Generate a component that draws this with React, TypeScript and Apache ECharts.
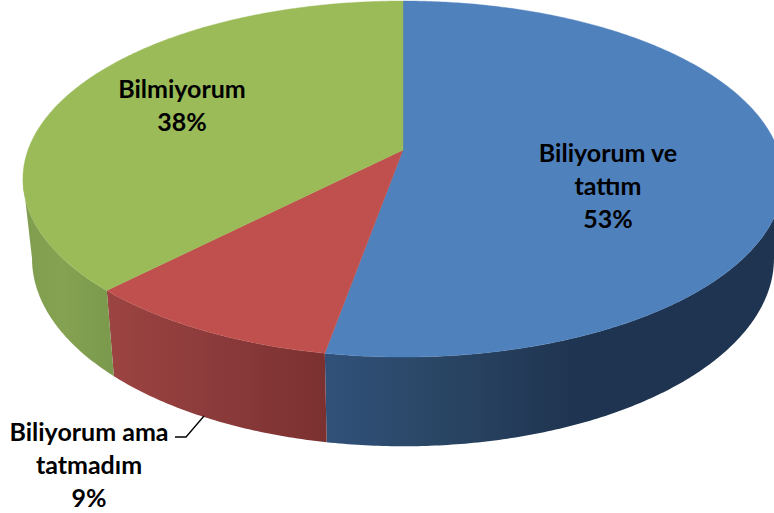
import React, { useEffect, useRef } from "react";
import * as echarts from "echarts";

const categories = ["Biliyorum ve\ntattım", "Biliyorum ama\ntatmadım", "Bilmiyorum"];
const sliceValues = [52.8, 9.49, 37.71];
const topColors = ["#4f81bd", "#bf504d", "#9bbb59"];
const wallStops: [number, string][][] = [
  [[0, "#31517a"], [0.25, "#2a4665"], [0.55, "#1f3450"], [1, "#1f3450"]],
  [[0, "#9c4441"], [0.5, "#8b3a3b"], [1, "#7b3130"]],
  [[0, "#819e50"], [0.45, "#84a251"], [1, "#7b994c"]],
];
const labelCenters = [[608, 185], [89, 463.5], [182, 104.5]];
const leaderPoints = [[175, 437], [186, 437], [204, 416]];

// Perspective model of the pie's upper and lower discs
const CX = 403;
const P = 0.163;
const TOP = { a: 375, b: 173.3, c: 150 };
const LOW = { a: 366, b: 182.7, c: 228 };
const TOTAL = sliceValues.reduce((s, v) => s + v, 0);

function project(th: number, d: { a: number; b: number; c: number }) {
  const x = Math.sin(th);
  const z = Math.cos(th);
  const w = 1 + P * z;
  return [CX + (d.a * x) / w, d.c - (d.b * z) / w];
}
function arc(a0: number, a1: number, d: { a: number; b: number; c: number }) {
  const n = Math.max(2, Math.ceil(Math.abs(a1 - a0) / 0.01));
  const pts: number[][] = [];
  for (let i = 0; i <= n; i++) pts.push(project(a0 + ((a1 - a0) * i) / n, d));
  return pts;
}

const renderSlice = (params: any, api: any) => {
  const i = params.dataIndex;
  const before = sliceValues.slice(0, i).reduce((s, v) => s + v, 0);
  const v = api.value(0) as number;
  const a0 = (before / TOTAL) * Math.PI * 2;
  const a1 = ((before + v) / TOTAL) * Math.PI * 2;
  const children: any[] = [];

  const frontStart = Math.acos(-P);
  const frontEnd = Math.PI * 2 - frontStart;
  const w0 = Math.max(a0, frontStart);
  const w1 = Math.min(a1, frontEnd);
  if (w1 > w0) {
    const pts = arc(w0, w1, TOP).concat(arc(w0, w1, LOW).reverse());
    children.push({
      type: "polygon",
      shape: { points: pts },
      style: {
        fill: new echarts.graphic.LinearGradient(
          0, 0, 1, 0,
          wallStops[i].map(([offset, color]) => ({ offset, color }))
        ),
      },
    });
  }
  children.push({
    type: "polygon",
    z2: 5,
    shape: { points: [[CX, TOP.c], ...arc(a0, a1, TOP)] },
    style: { fill: topColors[i], stroke: topColors[i], lineWidth: 0.4 },
  });
  children.push({
    type: "text",
    z2: 10,
    style: {
      text: `${categories[i]}\n${Math.round(v)}%`,
      x: labelCenters[i][0],
      y: labelCenters[i][1],
      align: "center",
      verticalAlign: "middle",
      fontFamily: "Lato",
      fontWeight: "bold",
      fontSize: 25,
      lineHeight: 33,
      fill: "#000000",
    },
  });
  if (i === 1) {
    children.push({
      type: "polyline",
      z2: 10,
      shape: { points: leaderPoints },
      style: { fill: "none", stroke: "#000000", lineWidth: 1.3 },
    });
  }
  return { type: "group", children };
};

export default function App() {
  const ref = useRef<HTMLDivElement>(null);
  useEffect(() => {
    document.body.style.margin = "0";
    const chart = echarts.init(ref.current!, undefined, { renderer: "svg" });
    chart.setOption({
      animation: false,
      backgroundColor: "#ffffff",
      series: [
        {
          type: "custom",
          coordinateSystem: "none",
          renderItem: renderSlice,
          clip: false,
          data: sliceValues.map((value, i) => ({ name: categories[i], value })),
        },
      ],
    });
    return () => chart.dispose();
  }, []);
  return <div ref={ref} style={{ width: 774, height: 513 }} />;
}
